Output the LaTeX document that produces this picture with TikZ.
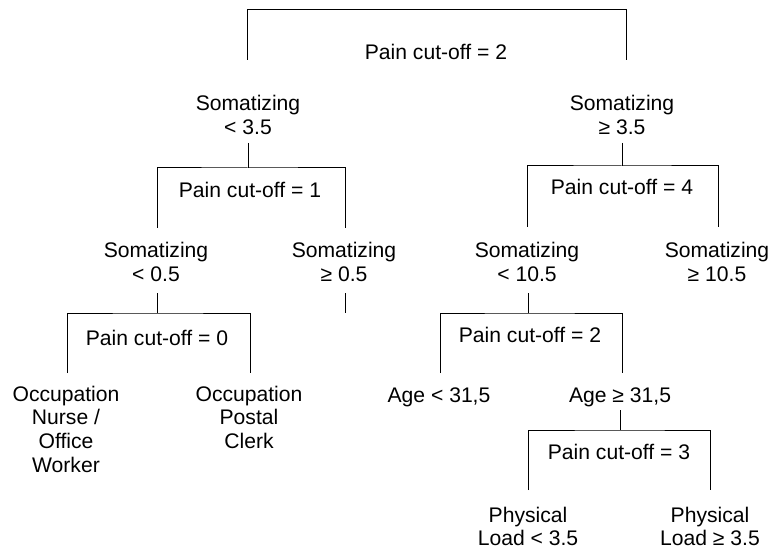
\documentclass[tikz,border=0pt]{standalone}
\usepackage{fontspec}
\setmainfont{Liberation Sans}
\newcommand{\mylines}[1]{\begin{tabular}[t]{@{}c@{}}#1\end{tabular}}
\begin{document}
\begin{tikzpicture}[x=1bp,y=-1bp,
  lbl/.style={anchor=base,inner sep=0pt,font=\fontsize{21.2}{24}\selectfont},
  br/.style={line width=1bp,black}]
\useasboundingbox[fill=white] (0,0) rectangle (771,553);
% labels
\node[lbl] (p2) at (436,60) {Pain cut-off = 2};
\node[lbl] (sL) at (248,111) {\mylines{Somatizing\\< 3.5}};
\node[lbl] (sR) at (622,111) {\mylines{Somatizing\\≥ 3.5}};
\node[lbl] (p1) at (250,198) {Pain cut-off = 1};
\node[lbl] (p4) at (622,195) {Pain cut-off = 4};
\node[lbl] (sLL) at (156,258) {\mylines{Somatizing\\< 0.5}};
\node[lbl] (sLR) at (344,258) {\mylines{Somatizing\\≥ 0.5}};
\node[lbl] (sRL) at (527,258) {\mylines{Somatizing\\< 10.5}};
\node[lbl] (sRR) at (717,258) {\mylines{Somatizing\\≥ 10.5}};
\node[lbl] (p0) at (157,345) {Pain cut-off = 0};
\node[lbl] (p2b) at (530,342) {Pain cut-off = 2};
\node[lbl] (o1) at (66,401) {\mylines{Occupation\\Nurse /\\Office\\Worker}};
\node[lbl] (o2) at (249,401) {\mylines{Occupation\\Postal\\Clerk}};
\node[lbl] (a1) at (439,402) {Age < 31,5};
\node[lbl] (a2) at (620,402) {Age ≥ 31,5};
\node[lbl] (p3) at (619,459) {Pain cut-off = 3};
\node[lbl] (ph1) at (528,522) {\mylines{Physical\\Load < 3.5}};
\node[lbl] (ph2) at (710,522) {\mylines{Physical\\Load ≥ 3.5}};
% junction coordinates
\coordinate (t1) at (247,60); \coordinate (t2) at (247,10);
\coordinate (t3) at (626,10); \coordinate (t4) at (626,60);
\coordinate (l0) at (248,143); \coordinate (l1) at (248,168);
\coordinate (l2) at (157,228); \coordinate (l3) at (345,228);
\coordinate (r0) at (622,143); \coordinate (r1) at (622,166);
\coordinate (r2) at (527,227); \coordinate (r3) at (718,227);
\coordinate (ll0) at (157,293); \coordinate (ll1) at (157,313);
\coordinate (ll2) at (67,373); \coordinate (ll3) at (250,373);
\coordinate (lr0) at (345,293); \coordinate (lr1) at (345,313);
\coordinate (rl0) at (528,293); \coordinate (rl1) at (528,313);
\coordinate (rl2) at (440,373); \coordinate (rl3) at (622,373);
\coordinate (a0) at (620,410); \coordinate (a1j) at (620,430);
\coordinate (a2j) at (528,490); \coordinate (a3j) at (710,490);
% brackets
\draw[br] (t1) -- (t2) -- (t3) -- (t4);
\draw[br] (l0) -- (l1);
\draw[br] (l2) |- (l1) -| (l3);
\draw[br] (r0) -- (r1);
\draw[br] (r2) |- (r1) -| (r3);
\draw[br] (ll0) -- (ll1);
\draw[br] (ll2) |- (ll1) -| (ll3);
\draw[br] (lr0) -- (lr1);
\draw[br] (rl0) -- (rl1);
\draw[br] (rl2) |- (rl1) -| (rl3);
\draw[br] (a0) -- (a1j);
\draw[br] (a2j) |- (a1j) -| (a3j);
\end{tikzpicture}
\end{document}
